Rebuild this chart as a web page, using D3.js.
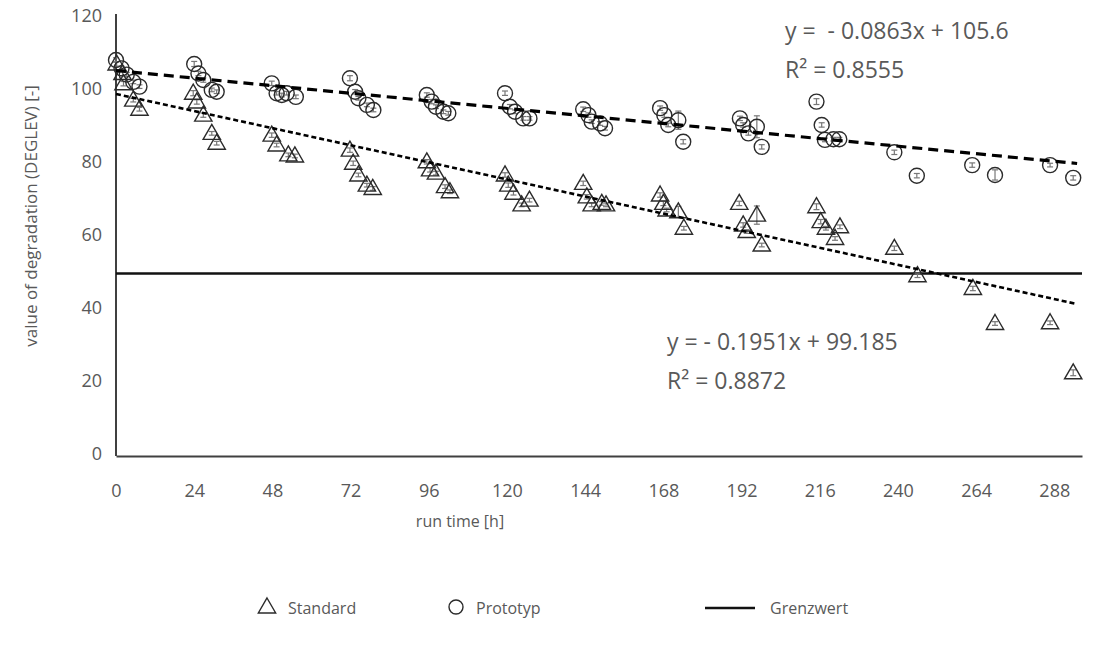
<!DOCTYPE html>
<html>
<head>
<meta charset="utf-8">
<script src="https://cdn.jsdelivr.net/npm/d3@7"></script>
<style>
  body { margin: 0; background: #fff; }
  text { font-family: 'Open Sans', sans-serif; fill: #595959; }
</style>
</head>
<body>
<div id="chart"></div>
<script>
// run time [h] / value for the Standard series
const standardHours = [0.2, 2, 2.3, 5.3, 7.2,
  23.7, 24.8, 26.8, 29.4, 30.9,
  47.8, 49.3, 52.9, 54.9,
  71.8, 72.8, 74.4, 77, 78.8,
  95.4, 96.4, 98.2, 101, 102.5,
  119.4, 120.4, 122, 124.5, 126.9,
  143.4, 144.5, 146, 149.1, 150.4,
  167, 168, 169, 172.6, 174.3,
  191.3, 192.5, 193.6, 196.7, 198.2,
  215, 216.3, 217.9, 220.7, 222.2,
  238.9, 246, 263, 269.8, 286.7, 293.8]
const standardValues = [107.4, 104.8, 102, 97.5, 95,
  99.4, 97, 93.4, 88.4, 85.7,
  87.9, 85.2, 82.5, 82.2,
  83.8, 80.2, 77, 74.2, 73.3,
  80.6, 78.4, 77.5, 73.8, 72.4,
  77, 74.2, 72, 68.8, 70.1,
  74.7, 71, 68.8, 69.2, 68.8,
  71.5, 69.2, 67.4, 66.9, 62.4,
  69.2, 63.3, 61.5, 66, 57.8,
  68.3, 64.2, 62.4, 59.6, 62.8,
  56.9, 49.4, 45.9, 36.3, 36.5, 22.8]
const standardErrors = [0.6, 0.6, 0.6, 0.5, 0.5,
  0.7, 0.6, 0.6, 0.5, 0.5,
  0.6, 0.5, 0.5, 0.5,
  0.6, 0.6, 0.5, 0.5, 0.5,
  0.6, 0.6, 0.5, 0.5, 0.5,
  0.6, 0.6, 0.5, 0.5, 0.5,
  0.6, 0.6, 0.5, 0.5, 0.5,
  0.6, 0.6, 0.5, 1.5, 0.5,
  0.6, 0.6, 0.5, 2.5, 0.5,
  0.8, 0.6, 0.5, 0.5, 0.5,
  0.6, 0.5, 0.6, 0.5, 0.5, 0.8]

// run time [h] / value for the Prototyp series
const prototypHours = [0, 1.7, 3.3, 5.3, 7.2,
  24, 25.3, 26.8, 29.4, 30.9,
  47.8, 49.3, 50.9, 52.4, 55.2,
  71.8, 73.4, 74.4, 77, 79,
  95.4, 96.9, 98.2, 100.5, 102,
  119.4, 120.9, 122.5, 125, 126.9,
  143.4, 145, 146, 148.6, 150.1,
  167, 168.3, 169.5, 172.6, 174.1,
  191.5, 192.5, 194.1, 196.7, 198.2,
  215, 216.6, 217.6, 220.2, 222,
  238.9, 245.8, 262.8, 269.8, 286.7, 293.8]
const prototypValues = [108.5, 106.2, 104.5, 102.5, 101.2,
  107.4, 104.8, 103, 100.3, 99.8,
  102.1, 99.4, 98.9, 99.4, 98.4,
  103.5, 99.8, 98, 96.2, 94.8,
  98.9, 97.1, 95.7, 94.3, 93.9,
  99.4, 95.7, 94.3, 92.5, 92.5,
  95, 93.4, 91.6, 91.1, 89.8,
  95.3, 93.4, 90.7, 92, 86.1,
  92.5, 90.7, 88.4, 90.2, 84.7,
  97.1, 90.7, 86.6, 86.8, 86.8,
  83.2, 76.8, 79.7, 77, 79.7, 76.2]
const prototypErrors = [0.6, 0.6, 0.6, 0.5, 0.5,
  0.7, 0.6, 0.6, 0.5, 0.5,
  0.6, 0.5, 0.5, 0.5, 0.5,
  0.7, 0.6, 0.5, 0.5, 0.5,
  0.6, 0.6, 0.5, 0.5, 0.5,
  0.6, 0.6, 0.5, 0.5, 0.5,
  0.6, 0.6, 0.5, 0.5, 0.5,
  0.6, 0.6, 0.5, 2.5, 0.6,
  0.6, 0.6, 0.5, 3, 0.6,
  0.8, 0.6, 0.5, 0.5, 0.5,
  0.6, 0.6, 0.6, 1.4, 0.5, 0.6]

// linear trend lines: [slope, intercept]
const standardTrend = [-0.1951, 99.185]
const prototypTrend = [-0.0863, 105.6]
const trendExtent = [0, 295]
const grenzwert = 50

const xTicks = [0, 24, 48, 72, 96, 120, 144, 168, 192, 216, 240, 264, 288]
const yTicks = [0, 20, 40, 60, 80, 100, 120]

const width = 1103
const height = 649

const svg = d3
  .select('#chart')
  .append('svg')
  .attr('width', width)
  .attr('height', height)

const xPositionScale = d3.scaleLinear().domain([0, 296.5]).range([116, 1082])
const yPositionScale = d3.scaleLinear().domain([0, 120]).range([456, 18])

const standard = standardHours.map((h, i) => ({ h: h, v: standardValues[i], e: standardErrors[i] }))
const prototyp = prototypHours.map((h, i) => ({ h: h, v: prototypValues[i], e: prototypErrors[i] }))

// axes (no tick marks, just the lines and labels)
const xAxis = d3.axisBottom(xPositionScale).tickValues(xTicks).tickSize(0).tickPadding(28)
svg
  .append('g')
  .attr('class', 'axis x-axis')
  .attr('transform', 'translate(0,' + yPositionScale(0) + ')')
  .call(xAxis)

const yAxis = d3.axisLeft(yPositionScale).tickValues(yTicks).tickSize(0).tickPadding(14)
svg
  .append('g')
  .attr('class', 'axis y-axis')
  .attr('transform', 'translate(' + xPositionScale(0) + ',0)')
  .call(yAxis)

svg.selectAll('.axis path').attr('stroke', '#404040').attr('stroke-width', 2)
svg.selectAll('.y-axis path').attr('d', 'M0,' + (yPositionScale(120) - 4) + 'V' + yPositionScale(0))
svg
  .selectAll('.x-axis text')
  .style('font-family', "'Open Sans', sans-serif")
  .style('font-size', '18px')
  .attr('fill', '#595959')
svg
  .selectAll('.y-axis text')
  .style('font-family', "'Open Sans', sans-serif")
  .style('font-size', '18px')
  .attr('fill', '#595959')
  .attr('dy', '0.22em')

// Grenzwert
svg
  .append('line')
  .attr('x1', xPositionScale(0))
  .attr('x2', xPositionScale(296.5))
  .attr('y1', yPositionScale(grenzwert))
  .attr('y2', yPositionScale(grenzwert))
  .attr('stroke', '#111')
  .attr('stroke-width', 2.5)

// error bars
function errorBars(data, cls) {
  const g = svg.append('g').attr('class', cls)
  data.forEach(d => {
    const x = xPositionScale(d.h)
    const y1 = yPositionScale(d.v + d.e)
    const y2 = yPositionScale(d.v - d.e)
    g.append('line').attr('x1', x).attr('x2', x).attr('y1', y1).attr('y2', y2)
    g.append('line').attr('x1', x - 3).attr('x2', x + 3).attr('y1', y1).attr('y2', y1)
    g.append('line').attr('x1', x - 3).attr('x2', x + 3).attr('y1', y2).attr('y2', y2)
  })
  g.selectAll('line').attr('stroke', '#777').attr('stroke-width', 1.2)
}
errorBars(standard, 'err-standard')
errorBars(prototyp, 'err-prototyp')

// markers
const triangle = d3.symbol().type(d3.symbolTriangle).size(130)

svg
  .selectAll('.tri')
  .data(standard)
  .enter()
  .append('path')
  .attr('class', 'tri')
  .attr('d', triangle)
  .attr('transform', d => 'translate(' + xPositionScale(d.h) + ',' + (yPositionScale(d.v) + 1) + ')')
  .attr('fill', 'none')
  .attr('stroke', '#2b2b2b')
  .attr('stroke-width', 1.4)

svg
  .selectAll('.circ')
  .data(prototyp)
  .enter()
  .append('circle')
  .attr('class', 'circ')
  .attr('r', 7.5)
  .attr('cx', d => xPositionScale(d.h))
  .attr('cy', d => yPositionScale(d.v))
  .attr('fill', 'none')
  .attr('stroke', '#2b2b2b')
  .attr('stroke-width', 1.4)

// trend lines
function trendLine(t, dash, w) {
  svg
    .append('line')
    .attr('x1', xPositionScale(trendExtent[0]))
    .attr('y1', yPositionScale(t[0] * trendExtent[0] + t[1]))
    .attr('x2', xPositionScale(trendExtent[1]))
    .attr('y2', yPositionScale(t[0] * trendExtent[1] + t[1]))
    .attr('stroke', '#000')
    .attr('stroke-width', w)
    .style('stroke-dasharray', dash)
}
trendLine(prototypTrend, '10, 6', 3.2)
trendLine(standardTrend, '5, 3', 2.6)

// equations
function label(txt, x, y) {
  svg
    .append('text')
    .attr('x', x)
    .attr('y', y)
    .text(txt)
    .style('font-size', '23px')
    .style('white-space', 'pre')
}
label('y =  - 0.0863x + 105.6', 785, 39)
label('R² = 0.8555', 785, 78)
label('y = - 0.1951x + 99.185', 667, 350)
label('R² = 0.8872', 667, 389)

// axis titles
svg
  .append('text')
  .attr('x', 460)
  .attr('y', 527)
  .attr('text-anchor', 'middle')
  .text('run time [h]')
  .style('font-size', '16px')

svg
  .append('text')
  .attr('transform', 'translate(37,' + 216 + ') rotate(-90)')
  .attr('text-anchor', 'middle')
  .text('value of degradation (DEGLEV) [-]')
  .style('font-size', '17px')

// legend
const legend = svg.append('g').attr('class', 'legend')
legend
  .append('path')
  .attr('d', triangle)
  .attr('transform', 'translate(267,608)')
  .attr('fill', 'none')
  .attr('stroke', '#2b2b2b')
  .attr('stroke-width', 1.4)
legend.append('text').attr('x', 288).attr('y', 614).text('Standard').style('font-size', '16px')
legend
  .append('circle')
  .attr('cx', 456)
  .attr('cy', 607)
  .attr('r', 7)
  .attr('fill', 'none')
  .attr('stroke', '#2b2b2b')
  .attr('stroke-width', 1.4)
legend.append('text').attr('x', 476).attr('y', 614).text('Prototyp').style('font-size', '16px')
legend
  .append('line')
  .attr('x1', 705)
  .attr('x2', 755)
  .attr('y1', 608)
  .attr('y2', 608)
  .attr('stroke', '#111')
  .attr('stroke-width', 2.5)
legend.append('text').attr('x', 770).attr('y', 614).text('Grenzwert').style('font-size', '16px')
</script>
</body>
</html>
